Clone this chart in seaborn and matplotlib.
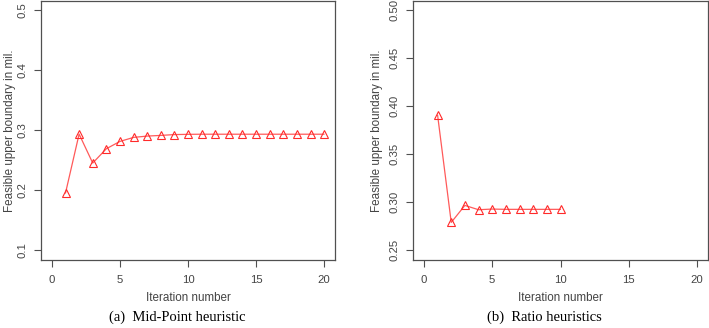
import matplotlib
matplotlib.use("Agg")
import matplotlib.pyplot as plt
import seaborn as sns
import pandas as pd

# Data
iter_mid = list(range(1, 21))
ub_mid = [0.1954, 0.2936, 0.2454, 0.2692, 0.2814, 0.2881, 0.2903, 0.2914, 0.2928, 0.2932,
          0.2934, 0.2934, 0.2934, 0.2934, 0.2934, 0.2934, 0.2934, 0.2934, 0.2934, 0.2934]
iter_ratio = list(range(1, 11))
ub_ratio = [0.3908, 0.2791, 0.2968, 0.2923, 0.2930, 0.2927, 0.2927, 0.2927, 0.2927, 0.2927]

x_ticks = [0, 5, 10, 15, 20]
y_ticks_mid = [0.1, 0.2, 0.3, 0.4, 0.5]
y_ticks_ratio = [0.25, 0.30, 0.35, 0.40, 0.45, 0.50]
xlabel = "Iteration number"
ylabel = "Feasible upper boundary in mil."
captions = ["(a)  Mid-Point heuristic", "(b)  Ratio heuristics"]

sns.set_style("ticks")
plt.rcParams['font.family'] = ['Liberation Sans', 'DejaVu Sans']

fig = plt.figure(figsize=(7.09, 3.28), dpi=100)
H = 328.0
W = 709.0
ax1 = fig.add_axes([41 / W, 1 - 260 / H, (335 - 41) / W, 259.5 / H])
ax2 = fig.add_axes([413 / W, 1 - 260 / H, (708 - 413) / W, 259.5 / H])

df1 = pd.DataFrame({"it": iter_mid, "ub": ub_mid})
df2 = pd.DataFrame({"it": iter_ratio, "ub": ub_ratio})

spine_col = "#505050"
txt_col = "#444444"
for ax, df, yt, ylim, fmt, cap, cx, ylp in [
    (ax1, df1, y_ticks_mid, (0.084, 0.516), "{:.1f}", captions[0], 177, 1.0),
    (ax2, df2, y_ticks_ratio, (0.24, 0.51), "{:.2f}", captions[1], 544, 5.0),
]:
    sns.lineplot(data=df, x="it", y="ub", ax=ax, color="#ff5a5a", linewidth=0.9,
                 marker="^", markersize=5.5, markerfacecolor="none",
                 markeredgecolor="#ff2a2a", markeredgewidth=0.8)
    ax.set_xlim(-0.8, 20.8)
    ax.set_ylim(*ylim)
    ax.set_xticks(x_ticks)
    ax.set_xticklabels([str(v) for v in x_ticks])
    ax.set_yticks(yt)
    ax.set_yticklabels([fmt.format(v) for v in yt], rotation=90, va="center")
    ax.tick_params(axis="both", length=5, width=0.8, color=spine_col,
                   labelsize=8.2, labelcolor=txt_col)
    ax.tick_params(axis="x", pad=5.5)
    ax.tick_params(axis="y", pad=4.5)
    for s in ax.spines.values():
        s.set_visible(True)
        s.set_color(spine_col)
        s.set_linewidth(0.9)
    ax.set_xlabel(xlabel, fontsize=8.4, color=txt_col, labelpad=5)
    ax.set_ylabel(ylabel, fontsize=8.4, color=txt_col, labelpad=ylp)
    fig.text(cx / W, 1 - 321 / H, cap, ha="center", va="baseline",
             fontsize=10.5, family=["Liberation Serif", "DejaVu Serif"], color="black")

fig.savefig("out.png", dpi=100)
